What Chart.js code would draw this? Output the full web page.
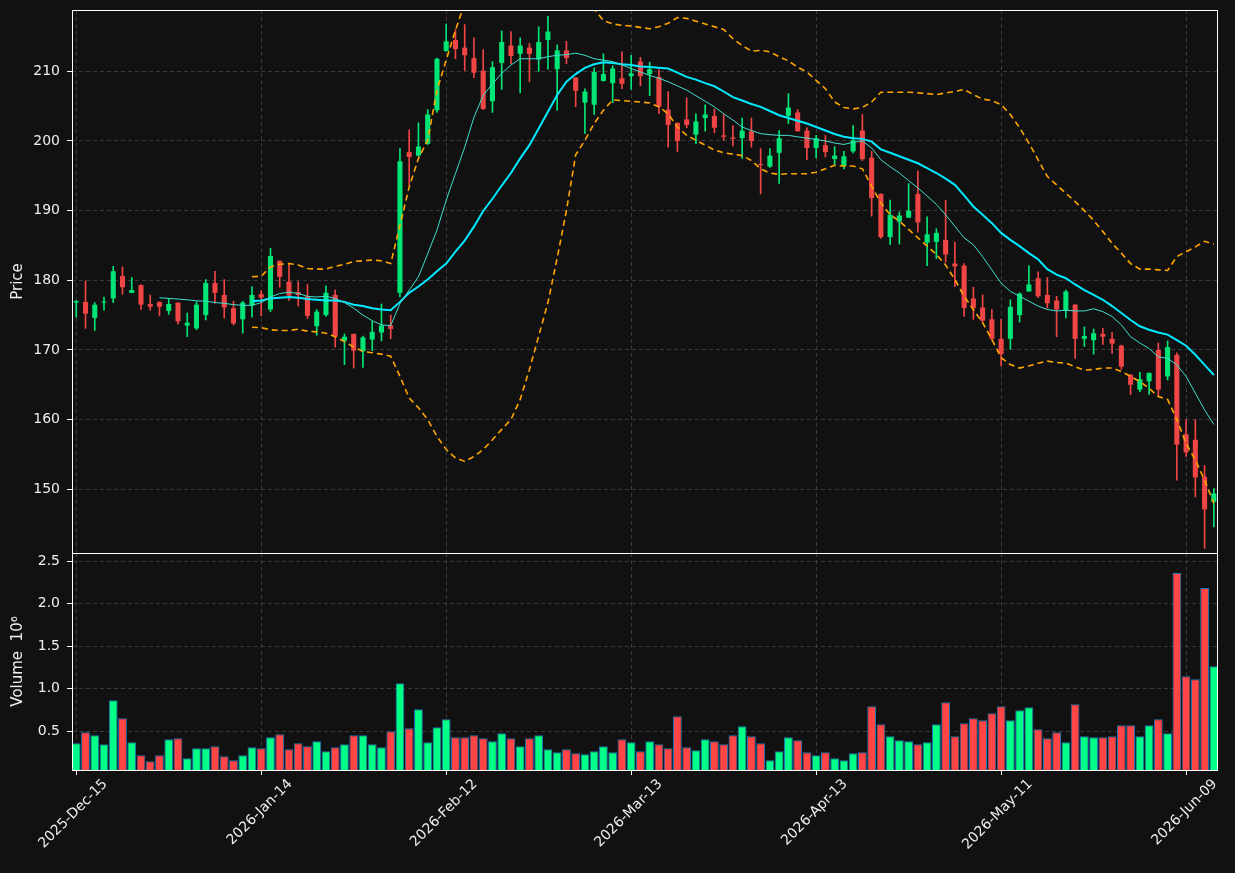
<!DOCTYPE html>
<html>
<head>
<meta charset="utf-8">
<title>Price / Volume</title>
<script src="https://cdn.jsdelivr.net/npm/chart.js@4.4.1/dist/chart.umd.min.js"></script>
<style>
  html, body { margin: 0; padding: 0; background: #111111; }
  #wrap { position: relative; width: 1235px; height: 873px; overflow: hidden; }
  canvas { position: absolute; left: 0; }
  #priceCanvas { top: 0; }
  #volCanvas { top: 543px; }
</style>
</head>
<body>
<div id="wrap">
  <canvas id="priceCanvas" width="1235" height="563"></canvas>
  <canvas id="volCanvas" width="1235" height="330"></canvas>
</div>
<script>
// =======================
// Data
// =======================
const dates = [
  '2025-Dec-15','2025-Dec-16','2025-Dec-17','2025-Dec-18','2025-Dec-19',
  '2025-Dec-22','2025-Dec-23','2025-Dec-24','2025-Dec-26',
  '2025-Dec-29','2025-Dec-30','2025-Dec-31','2026-Jan-02',
  '2026-Jan-05','2026-Jan-06','2026-Jan-07','2026-Jan-08','2026-Jan-09',
  '2026-Jan-12','2026-Jan-13','2026-Jan-14','2026-Jan-15','2026-Jan-16',
  '2026-Jan-20','2026-Jan-21','2026-Jan-22','2026-Jan-23',
  '2026-Jan-26','2026-Jan-27','2026-Jan-28','2026-Jan-29','2026-Jan-30',
  '2026-Feb-02','2026-Feb-03','2026-Feb-04','2026-Feb-05','2026-Feb-06',
  '2026-Feb-09','2026-Feb-10','2026-Feb-11','2026-Feb-12','2026-Feb-13',
  '2026-Feb-17','2026-Feb-18','2026-Feb-19','2026-Feb-20',
  '2026-Feb-23','2026-Feb-24','2026-Feb-25','2026-Feb-26','2026-Feb-27',
  '2026-Mar-02','2026-Mar-03','2026-Mar-04','2026-Mar-05','2026-Mar-06',
  '2026-Mar-09','2026-Mar-10','2026-Mar-11','2026-Mar-12','2026-Mar-13',
  '2026-Mar-16','2026-Mar-17','2026-Mar-18','2026-Mar-19','2026-Mar-20',
  '2026-Mar-23','2026-Mar-24','2026-Mar-25','2026-Mar-26','2026-Mar-27',
  '2026-Mar-30','2026-Mar-31','2026-Apr-01','2026-Apr-02',
  '2026-Apr-06','2026-Apr-07','2026-Apr-08','2026-Apr-09','2026-Apr-10',
  '2026-Apr-13','2026-Apr-14','2026-Apr-15','2026-Apr-16','2026-Apr-17',
  '2026-Apr-20','2026-Apr-21','2026-Apr-22','2026-Apr-23','2026-Apr-24',
  '2026-Apr-27','2026-Apr-28','2026-Apr-29','2026-Apr-30','2026-May-01',
  '2026-May-04','2026-May-05','2026-May-06','2026-May-07','2026-May-08',
  '2026-May-11','2026-May-12','2026-May-13','2026-May-14','2026-May-15',
  '2026-May-18','2026-May-19','2026-May-20','2026-May-21','2026-May-22',
  '2026-May-26','2026-May-27','2026-May-28','2026-May-29',
  '2026-Jun-01','2026-Jun-02','2026-Jun-03','2026-Jun-04','2026-Jun-05',
  '2026-Jun-08','2026-Jun-09','2026-Jun-10','2026-Jun-11','2026-Jun-12'
];

const open = [
  176.8,176.9,174.6,176.8,177.4,180.6,178.2,179.3,176.6,176.9,
  175.6,176.8,173.5,173.1,175.0,179.6,177.9,176.0,174.4,176.4,
  178.0,175.8,182.8,179.8,178.3,177.7,173.4,175.0,177.9,171.3,
  172.3,169.8,171.5,172.5,173.5,178.2,198.4,197.9,199.6,204.4,
  212.9,214.5,213.4,211.9,210.1,205.7,211.2,213.7,212.5,213.4,
  211.7,214.5,210.3,213.0,209.1,205.5,205.2,208.6,208.3,209.0,
  209.3,211.4,209.6,209.2,204.5,202.6,203.1,200.9,203.3,203.6,
  200.8,200.5,200.4,201.4,196.7,196.3,198.3,203.6,204.1,201.5,
  199.0,199.4,197.4,196.4,198.5,201.5,197.6,192.4,186.2,188.4,
  189.0,192.4,185.4,185.5,185.8,182.4,182.1,177.4,176.1,174.4,
  171.6,171.6,175.0,178.4,180.3,177.9,177.1,175.6,176.5,171.6,
  171.4,172.3,171.6,170.6,166.4,164.3,165.5,170.0,166.2,169.3,
  157.9,157.1,151.8,148.2
];
const high = [
  177.1,179.9,176.8,177.6,182.0,181.9,180.4,179.4,177.9,176.9,
  177.4,176.8,175.3,176.9,180.1,181.3,180.1,177.0,177.0,179.1,
  178.5,184.6,182.8,182.3,179.8,179.4,175.8,179.2,178.6,172.3,
  172.3,172.0,174.1,176.6,175.0,198.9,201.6,202.6,204.5,211.9,
  216.8,216.0,216.7,214.8,213.1,211.4,215.8,215.7,214.8,214.0,
  216.4,217.9,213.8,214.3,209.1,207.5,210.5,212.5,210.8,212.8,
  212.3,212.0,211.3,210.2,207.1,202.6,206.2,203.9,205.2,204.6,
  203.8,202.2,203.3,203.3,198.9,198.9,201.5,206.8,204.5,201.9,
  200.8,200.8,199.2,198.5,202.2,203.8,198.5,192.4,191.5,189.8,
  193.9,195.7,189.1,187.4,191.5,185.5,182.4,179.0,177.9,175.8,
  174.4,177.2,178.2,182.1,181.2,180.4,177.7,178.6,176.5,173.3,
  173.0,173.1,172.5,170.7,166.5,166.8,166.7,171.0,171.3,169.6,
  160.0,160.0,153.4,150.1
];
const low = [
  174.7,173.1,172.8,175.7,176.8,178.0,178.2,175.8,175.7,174.9,
  175.1,173.7,171.9,172.9,174.3,176.7,174.6,173.6,172.4,174.7,
  174.9,175.5,179.0,177.1,176.3,174.5,172.1,174.8,170.4,167.9,
  167.4,167.5,169.9,171.3,171.6,177.6,193.7,197.8,199.5,204.1,
  212.9,211.8,210.1,209.1,204.5,204.1,207.4,211.1,206.9,208.5,
  210.0,210.3,204.4,211.1,204.9,201.1,203.8,208.6,205.5,207.5,
  207.4,207.9,206.5,203.9,199.1,198.5,201.9,199.6,201.4,201.2,
  200.1,199.3,197.5,199.1,192.4,196.2,193.9,202.5,201.4,197.3,
  197.6,197.7,196.6,196.0,198.3,197.2,189.2,186.0,185.1,185.2,
  189.0,186.9,182.1,183.1,182.6,179.1,174.8,174.4,174.0,171.4,
  167.7,170.1,174.0,178.4,177.5,176.0,171.9,174.6,168.8,170.5,
  169.4,170.8,169.5,167.2,163.6,164.0,163.6,163.4,165.7,151.3,
  154.7,148.9,141.5,144.6
];
const close = [
  177.0,175.2,176.5,176.9,181.3,179.0,178.6,176.5,176.2,176.2,
  176.6,174.1,173.9,176.5,179.6,178.2,176.1,173.8,176.8,177.9,
  177.5,183.5,180.5,177.8,177.9,174.9,175.5,178.2,171.9,171.9,
  169.9,171.8,172.6,173.5,173.0,197.1,197.7,199.2,203.8,211.8,
  214.3,213.2,212.3,209.8,204.6,210.6,214.2,212.2,213.7,212.5,
  214.2,215.7,213.0,211.9,207.2,207.1,209.9,209.6,210.4,208.2,
  209.7,209.3,210.3,204.9,202.3,200.0,202.3,202.8,203.8,201.9,
  200.6,200.3,201.5,200.0,196.55,197.9,200.4,204.8,201.4,199.0,
  200.4,198.4,197.9,197.8,200.1,197.4,191.8,186.2,189.4,189.3,
  190.0,188.3,186.6,186.8,183.7,182.0,176.0,176.0,174.2,171.6,
  169.4,176.2,178.1,179.4,177.7,176.7,175.8,178.4,171.6,172.0,
  172.4,171.9,170.9,167.6,165.0,165.8,166.7,164.3,170.4,156.4,
  155.3,151.7,147.1,149.4
];
// volume in millions
const volume = [
  0.359,0.488,0.453,0.347,0.865,0.653,0.371,0.218,0.147,0.218,
  0.406,0.418,0.182,0.300,0.300,0.324,0.206,0.159,0.218,0.312,
  0.300,0.429,0.465,0.288,0.359,0.324,0.382,0.265,0.312,0.347,
  0.453,0.453,0.347,0.312,0.500,1.065,0.535,0.759,0.371,0.547,
  0.641,0.429,0.429,0.453,0.418,0.382,0.476,0.418,0.324,0.418,
  0.453,0.288,0.253,0.288,0.241,0.229,0.265,0.324,0.253,0.406,
  0.371,0.265,0.382,0.347,0.300,0.676,0.312,0.276,0.406,0.382,
  0.347,0.453,0.559,0.441,0.359,0.159,0.265,0.429,0.394,0.253,
  0.218,0.253,0.182,0.159,0.241,0.253,0.794,0.582,0.441,0.394,
  0.382,0.347,0.371,0.582,0.841,0.441,0.594,0.653,0.629,0.712,
  0.794,0.629,0.747,0.782,0.524,0.418,0.488,0.371,0.818,0.441,
  0.429,0.429,0.441,0.571,0.571,0.441,0.571,0.641,0.476,2.359,
  1.147,1.112,2.182,1.265
];
// moving averages and bands as they appear in the picture
const maFast = [
  null,null,null,null,null,null,null,null,null,177.5,
  177.4,177.3,177.2,177.05,177.0,176.8,176.7,176.5,176.4,176.4,
  176.8,177.6,178.1,178.3,178.1,177.7,177.6,177.7,177.4,176.8,
  176.0,175.0,174.2,173.6,173.5,176.65,178.6,180.5,183.8,187.2,
  191.5,195.3,199.1,203.4,206.55,208.2,209.7,210.9,211.8,211.8,
  211.8,212.1,212.3,212.4,212.6,212.3,211.8,211.6,211.4,210.9,
  210.4,209.9,209.4,209.0,208.5,207.9,207.3,206.5,205.7,204.9,
  203.9,203.0,202.0,201.5,201.05,200.9,200.8,200.8,200.6,200.4,
  200.2,200.0,199.7,199.5,199.8,200.0,199.0,197.3,196.3,195.4,
  194.3,193.25,192.1,190.9,189.4,187.75,186.1,185.1,183.4,181.5,
  179.6,178.4,177.7,177.0,176.3,175.8,175.6,175.7,175.6,175.6,
  175.9,175.5,174.8,173.6,171.9,171.0,170.2,169.0,168.8,167.85,
  166.2,163.8,161.4,159.3
];
const maSlow = [
  null,null,null,null,null,null,null,null,null,null,
  null,null,null,null,null,null,null,null,null,177.0,
  177.1,177.4,177.5,177.6,177.5,177.3,177.2,177.1,177.1,176.9,
  176.5,176.3,176.0,175.8,175.7,176.9,178.2,179.1,180.1,181.3,
  182.4,184.1,185.7,187.7,189.95,191.7,193.6,195.4,197.5,199.4,
  201.8,204.2,206.6,208.5,209.6,210.5,211.0,211.3,211.2,211.0,
  210.9,210.7,210.6,210.5,210.4,209.8,209.2,208.8,208.3,207.85,
  207.1,206.3,205.8,205.3,204.9,204.3,203.7,203.3,202.9,202.5,
  202.0,201.5,201.0,200.6,200.4,200.3,199.9,198.8,198.3,197.8,
  197.3,196.8,196.1,195.4,194.6,193.7,192.2,190.6,189.4,188.2,
  186.8,185.8,184.9,183.9,183.0,181.6,180.8,180.3,179.4,178.6,
  177.9,177.2,176.3,175.3,174.3,173.4,172.9,172.5,172.2,171.4,
  170.6,169.3,167.85,166.4
];
const bandUpper = [
  null,null,null,null,null,null,null,null,null,null,
  null,null,null,null,null,null,null,null,null,180.5,
  180.6,181.9,182.3,182.4,182.2,181.7,181.6,181.6,182.0,182.3,
  182.7,182.8,182.9,182.8,182.4,187.9,193.4,197.5,200.1,207.3,
  211.6,215.9,219.8,221.5,224.2,226.3,228.6,230.8,232.1,231.6,
  231.6,231.6,230.0,227.0,221.2,220.9,218.9,217.3,216.8,216.6,
  216.5,216.3,216.1,216.4,216.9,217.7,217.6,217.2,216.8,216.4,
  216.0,214.7,213.7,212.9,213.0,212.8,212.1,211.5,210.6,209.9,
  208.7,207.5,205.6,204.8,204.6,204.8,205.6,207.0,207.0,207.0,
  207.0,206.9,206.8,206.65,206.9,207.1,207.4,206.65,206.0,205.8,
  205.2,203.8,201.9,199.7,197.3,194.9,193.7,192.5,191.3,190.0,
  188.6,187.0,185.3,183.9,182.4,181.6,181.6,181.5,181.4,183.4,
  184.1,184.8,185.6,185.2
];
const bandLower = [
  null,null,null,null,null,null,null,null,null,null,
  null,null,null,null,null,null,null,null,null,173.25,
  173.2,172.9,172.8,172.8,172.97,172.7,172.6,172.4,171.9,171.2,
  170.4,169.8,169.6,169.4,169.1,166.2,163.1,161.7,160.0,157.6,
  155.7,154.5,154.0,154.7,155.7,157.1,158.6,160.0,162.9,167.2,
  172.0,176.8,183.2,190.0,198.0,200.1,202.5,204.4,205.9,205.8,
  205.7,205.6,205.45,204.9,203.9,202.0,200.8,200.1,199.4,198.7,
  198.3,198.1,197.9,197.2,196.0,195.4,195.2,195.3,195.3,195.3,
  195.5,196.0,196.5,196.4,196.4,196.0,193.5,191.1,189.4,188.5,
  187.3,186.1,184.9,183.7,182.2,180.1,177.7,175.8,173.9,171.5,
  168.9,167.9,167.4,167.7,168.1,168.4,168.2,168.1,167.6,167.1,
  167.2,167.4,167.4,166.9,166.2,165.45,164.5,163.3,162.9,160.0,
  156.6,154.2,151.3,148.0
];

const xTickIdx = [0, 20, 40, 60, 80, 100, 120];
const priceTicks = [150, 160, 170, 180, 190, 200, 210];
const volTicks = [0.5, 1.0, 1.5, 2.0, 2.5];

// =======================
// Style
// =======================
const upColor = '#00e676', downColor = '#ef4545';
const volUp = '#00ff88', volDown = '#ff4545', volEdge = '#1f77b4';
const gridColor = '#3a3a3a', textColor = '#eeeeee';

Chart.defaults.font.family = "'DejaVu Sans', sans-serif";
Chart.defaults.font.size = 14;
Chart.defaults.color = textColor;

const idx = dates.map((d, i) => i);
const isUp = idx.map(i => close[i] >= open[i]);
const candleColors = isUp.map(u => u ? upColor : downColor);
const pts = arr => arr.map((v, i) => ({ x: i, y: v })).filter(p => p.y !== null);

// white frame round each panel
const framePlugin = {
  id: 'frame',
  afterDraw(chart) {
    const { ctx, chartArea: a } = chart;
    ctx.save();
    ctx.strokeStyle = '#ffffff';
    ctx.lineWidth = 1;
    ctx.strokeRect(a.left + 0.5, a.top + 0.5, a.right - a.left - 1, a.bottom - a.top);
    ctx.restore();
  }
};

// keep tick-label overflow from shrinking the plot area
function noPad(s) {
  s.paddingTop = 0; s.paddingBottom = 0; s.paddingLeft = 0; s.paddingRight = 0;
}

function xAxis(withLabels) {
  return {
    type: 'linear', min: -0.46, max: 123.45, offset: false,
    afterBuildTicks: s => { s.ticks = xTickIdx.map(v => ({ value: v })); },
    ticks: {
      display: withLabels, autoSkip: false, minRotation: 45, maxRotation: 45,
      padding: 1, labelOffset: 29, callback: v => dates[v]
    },
    grid: { offset: false, color: gridColor, drawTicks: withLabels, tickLength: 5, tickColor: '#ffffff' },
    border: { display: false, dash: [4, 3] },
    afterFit: s => { s.height = withLabels ? 103 : 0; noPad(s); }
  };
}

function yAxis(min, max, ticks, title, fmt) {
  return {
    min, max,
    afterBuildTicks: s => { s.ticks = ticks.map(v => ({ value: v })); },
    ticks: { padding: 7, callback: fmt },
    grid: { color: gridColor, tickLength: 5, tickColor: '#ffffff' },
    border: { display: false, dash: [4, 3] },
    title: { display: true, text: title, font: { size: 15 }, padding: { top: 9, bottom: 0 } },
    afterFit: s => { s.width = 72; noPad(s); }
  };
}

const common = {
  responsive: false,
  animation: false,
  events: [],
  plugins: { legend: { display: false }, tooltip: { enabled: false } }
};

// =======================
// Price panel
// =======================
new Chart(document.getElementById('priceCanvas'), {
  type: 'bar',
  data: {
    datasets: [
      { type: 'line', label: 'MA fast', data: pts(maFast), borderColor: '#40e0d0', borderWidth: 1, pointRadius: 0, order: 0 },
      { type: 'line', label: 'MA slow', data: pts(maSlow), borderColor: '#00eaff', borderWidth: 2, pointRadius: 0, order: 0 },
      { type: 'line', label: 'Upper band', data: pts(bandUpper), borderColor: '#ffa500', borderWidth: 1.6, borderDash: [6, 4], pointRadius: 0, order: 0 },
      { type: 'line', label: 'Lower band', data: pts(bandLower), borderColor: '#ffa500', borderWidth: 1.6, borderDash: [6, 4], pointRadius: 0, order: 0 },
      { type: 'bar', label: 'Body', data: idx.map(i => ({ x: i, y: [open[i], close[i]] })),
        backgroundColor: candleColors, barPercentage: 0.55, categoryPercentage: 1, grouped: false, minBarLength: 1, order: 2 },
      { type: 'bar', label: 'Wick', data: idx.map(i => ({ x: i, y: [low[i], high[i]] })),
        backgroundColor: candleColors, barThickness: 1, grouped: false, order: 3 }
    ]
  },
  options: {
    ...common,
    layout: { autoPadding: false, padding: { top: 10, right: 17, bottom: 10, left: 0 } },
    scales: {
      x: xAxis(false),
      y: yAxis(140.85, 218.8, priceTicks, 'Price', v => v)
    }
  },
  plugins: [framePlugin]
});

// =======================
// Volume panel
// =======================
new Chart(document.getElementById('volCanvas'), {
  type: 'bar',
  data: {
    datasets: [
      { label: 'Volume', data: idx.map(i => ({ x: i, y: volume[i] })),
        backgroundColor: isUp.map(u => u ? volUp : volDown), borderColor: volEdge, borderWidth: 1,
        barPercentage: 0.95, categoryPercentage: 1 }
    ]
  },
  options: {
    ...common,
    layout: { autoPadding: false, padding: { top: 10, right: 17, bottom: 0, left: 0 } },
    scales: {
      x: xAxis(true),
      y: yAxis(0.045, 2.594, volTicks, 'Volume  10\u2076', v => v.toFixed(1))
    }
  },
  plugins: [framePlugin]
});
</script>
</body>
</html>
